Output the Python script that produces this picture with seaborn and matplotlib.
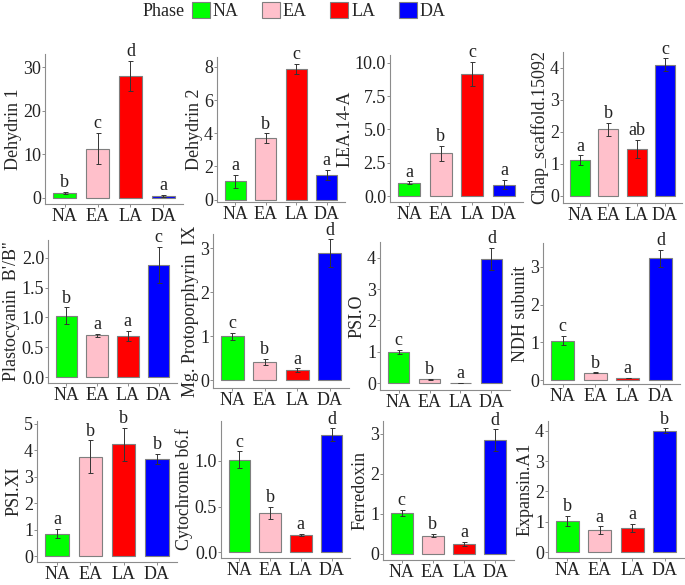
import numpy as np
import pandas as pd
import matplotlib
matplotlib.use("Agg")
import matplotlib.pyplot as plt
import matplotlib.patches as mpatches
import seaborn as sns

phases = ["NA", "EA", "LA", "DA"]
colors = {"NA": "#00FF00", "EA": "#FFC0CB", "LA": "#FF0000", "DA": "#0000FF"}

genes = ["Dehydrin 1", "Dehydrin 2", "LEA.14-A", "Chap_scaffold.15092",
         "Plastocyanin  B'/B''", "Mg. Protoporphyrin  IX", "PSI.O", "NDH subunit",
         "PSI.XI", "Cytochrome b6.f", "Ferredoxin", "Expansin.A1"]

means = [
    [1.1, 11.3, 28.0, 0.5],
    [1.1, 3.7, 7.9, 1.5],
    [1.0, 3.2, 9.2, 0.85],
    [1.12, 2.08, 1.47, 4.1],
    [1.03, 0.70, 0.69, 1.88],
    [1.0, 0.42, 0.23, 2.88],
    [1.0, 0.12, 0.01, 3.97],
    [1.05, 0.20, 0.06, 3.22],
    [0.85, 3.75, 4.22, 3.67],
    [1.01, 0.43, 0.19, 1.28],
    [1.03, 0.46, 0.26, 2.84],
    [1.03, 0.73, 0.80, 4.0],
]
errors = [
    [0.3, 3.6, 3.5, 0.2],
    [0.4, 0.3, 0.3, 0.3],
    [0.1, 0.55, 0.9, 0.35],
    [0.15, 0.2, 0.28, 0.2],
    [0.14, 0.03, 0.09, 0.31],
    [0.08, 0.07, 0.04, 0.32],
    [0.07, 0.02, 0.005, 0.35],
    [0.12, 0.01, 0.01, 0.22],
    [0.17, 0.62, 0.62, 0.18],
    [0.09, 0.07, 0.01, 0.07],
    [0.07, 0.04, 0.05, 0.27],
    [0.16, 0.12, 0.13, 0.08],
]
letters = [
    ["b", "c", "d", "a"],
    ["a", "b", "c", "a"],
    ["a", "b", "c", "a"],
    ["a", "b", "ab", "c"],
    ["b", "a", "a", "c"],
    ["c", "b", "a", "d"],
    ["c", "b", "a", "d"],
    ["c", "b", "a", "d"],
    ["a", "b", "b", "b"],
    ["c", "b", "a", "d"],
    ["c", "b", "a", "d"],
    ["b", "a", "a", "b"],
]
yticks = [
    [0, 10, 20, 30], [0, 2, 4, 6, 8], [0.0, 2.5, 5.0, 7.5, 10.0], [0, 1, 2, 3, 4],
    [0.0, 0.5, 1.0, 1.5, 2.0], [0, 1, 2, 3], [0, 1, 2, 3, 4], [0, 1, 2, 3],
    [0, 1, 2, 3, 4, 5], [0.0, 0.5, 1.0], [0, 1, 2, 3], [0, 1, 2, 3, 4],
]
ylims = [
    (-1.4, 33), (-0.15, 8.6), (-0.45, 10.6), (-0.22, 4.5),
    (-0.1, 2.3), (-0.18, 3.32), (-0.22, 4.5), (-0.1, 3.63),
    (-0.22, 5.1), (-0.06, 1.43), (-0.15, 3.32), (-0.19, 4.32),
]
# panel boxes in pixels: left, top, right, bottom
boxes = [
    (45, 54, 183, 204), (217, 57, 345, 202), (390, 55, 523, 202), (563, 52, 682, 203),
    (48, 240, 177, 383), (213, 234, 349, 388), (380, 242, 510, 390), (543, 243, 680, 384),
    (37, 421, 177, 562), (221, 421, 350, 558), (383, 421, 514, 560), (548, 421, 684, 558),
]

sns.set_style("white")
plt.rcParams['font.family'] = ['Liberation Serif', 'DejaVu Serif']
plt.rcParams['font.size'] = 13

W, H = 685, 585
fig = plt.figure(figsize=(W / 100, H / 100), dpi=100)

for i, gene in enumerate(genes):
    l, t, r, b = boxes[i]
    ax = fig.add_axes([l / W, 1 - b / H, (r - l) / W, (b - t) / H])
    df = pd.DataFrame({"Phase": phases, "value": means[i]})
    sns.barplot(data=df, x="Phase", y="value", hue="Phase", order=phases,
                palette=colors, saturation=1, width=0.7, edgecolor="#7f7f7f",
                linewidth=0.8, legend=False, ax=ax)
    ax.errorbar(range(4), means[i], yerr=errors[i], fmt="none",
                ecolor="#333333", elinewidth=0.7, capsize=1.8, capthick=0.7)
    for j in range(4):
        ax.annotate(letters[i][j], (j, means[i][j] + errors[i][j]),
                    xytext=(0, 0.5), textcoords="offset points",
                    ha="center", va="bottom", fontsize=13, color="#222222")
    ax.set_xlim(-0.6, 3.6)
    ax.set_ylim(*ylims[i])
    ax.set_yticks(yticks[i])
    if isinstance(yticks[i][1], float):
        ax.set_yticklabels([f"{v:.1f}" for v in yticks[i]])
    ax.set_xlabel("")
    ax.set_ylabel(gene, fontsize=13, labelpad=1)
    for s in ["top", "right"]:
        ax.spines[s].set_visible(False)
    for s in ["left", "bottom"]:
        ax.spines[s].set_color("#8c8c8c")
        ax.spines[s].set_linewidth(0.8)
    ax.tick_params(axis="both", length=2, width=0.7, color="#8c8c8c",
                   labelsize=13, pad=0.8, labelcolor="#222222", left=True, bottom=True)

handles = [mpatches.Patch(facecolor=colors[p], edgecolor="#7f7f7f", linewidth=0.8, label=p)
           for p in phases]
fig.text(143 / W, 1 - 11 / H, "Phase", fontsize=13, va="center", ha="left", color="#222222")
fig.legend(handles=handles, loc="center left", bbox_to_anchor=(192 / W, 1 - 11 / H),
           ncol=4, frameon=False, handlelength=1.0, handleheight=1.0,
           handletextpad=0.15, columnspacing=1.3, borderaxespad=0, borderpad=0,
           fontsize=13)

fig.savefig("out.png", dpi=100)
